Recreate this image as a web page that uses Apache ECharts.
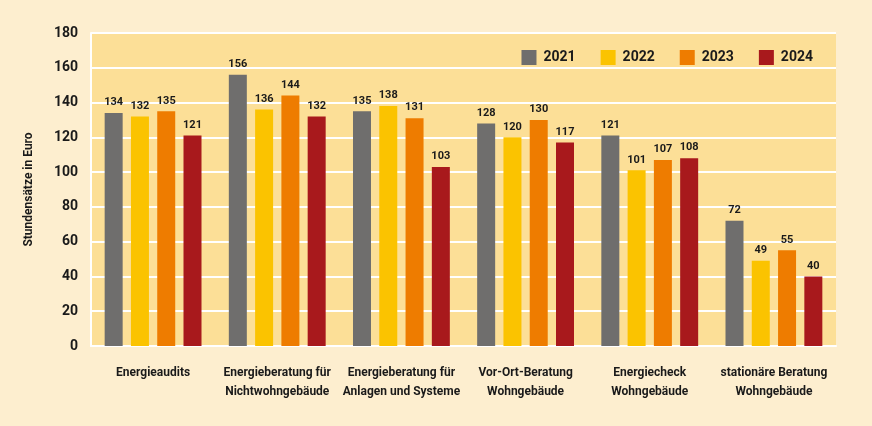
<!DOCTYPE html>
<html>
<head>
<meta charset="utf-8">
<script src="https://cdn.jsdelivr.net/npm/echarts@6/dist/echarts.min.js"></script>
<style>
  html, body { margin: 0; padding: 0; background: #fdeecf; }
  #chart { width: 872px; height: 426px; }
</style>
</head>
<body>
<div id="chart"></div>
<script>
const categories = [
  'Energieaudits',
  'Energieberatung für\nNichtwohngebäude',
  'Energieberatung für\nAnlagen und Systeme',
  'Vor-Ort-Beratung\nWohngebäude',
  'Energiecheck\nWohngebäude',
  'stationäre Beratung\nWohngebäude'
]
const years = ['2021', '2022', '2023', '2024']
const values2021 = [134, 156, 135, 128, 121, 72]
const values2022 = [132, 136, 138, 120, 101, 49]
const values2023 = [135, 144, 131, 130, 107, 55]
const values2024 = [121, 132, 103, 117, 108, 40]

const font = 'Roboto, sans-serif'
const colors = ['#6f6e6d', '#fbc300', '#ee7c00', '#a8191c']
const allValues = [values2021, values2022, values2023, values2024]

const chart = echarts.init(document.getElementById('chart'))
chart.setOption({
  backgroundColor: '#fdeecf',
  color: colors,
  textStyle: { fontFamily: font },
  grid: {
    left: 91,
    right: 36,
    top: 33,
    bottom: 80,
    show: true,
    backgroundColor: '#fcdf97',
    borderWidth: 0
  },
  legend: {
    right: 54,
    top: 45,
    itemWidth: 15,
    itemHeight: 15,
    itemGap: 25,
    icon: 'rect',
    selectedMode: false,
    textStyle: { fontFamily: font, fontSize: 14, fontWeight: 'bold', color: '#1a1a1a', padding: [0, 0, 0, 2] },
    data: years
  },
  xAxis: {
    type: 'category',
    data: categories,
    axisLine: { show: true, lineStyle: { color: '#ffffff', width: 2 } },
    axisTick: { show: false },
    axisLabel: {
      interval: 0,
      margin: 17,
      fontFamily: font,
      fontSize: 12,
      fontWeight: 'bold',
      color: '#1a1a1a',
      lineHeight: 19
    }
  },
  yAxis: {
    type: 'value',
    min: 0,
    max: 180,
    interval: 20,
    name: 'Stundensätze in Euro',
    nameLocation: 'middle',
    nameGap: 56,
    nameTextStyle: { fontFamily: font, fontSize: 12, fontWeight: 'bold', color: '#1a1a1a' },
    axisLine: { show: true, lineStyle: { color: '#ffffff', width: 2 } },
    axisTick: { show: false },
    splitLine: { lineStyle: { color: '#ffffff', width: 2 } },
    axisLabel: {
      margin: 13,
      fontFamily: font,
      fontSize: 14,
      fontWeight: 'bold',
      color: '#1a1a1a'
    }
  },
  series: years.map((y, i) => ({
    name: y,
    type: 'bar',
    data: allValues[i],
    barWidth: 18,
    barGap: '46%',
    itemStyle: { color: colors[i] },
    label: {
      show: true,
      position: 'top',
      distance: 5,
      fontFamily: font,
      fontSize: 11,
      fontWeight: 'bold',
      color: '#1a1a1a'
    }
  }))
})
</script>
</body>
</html>
